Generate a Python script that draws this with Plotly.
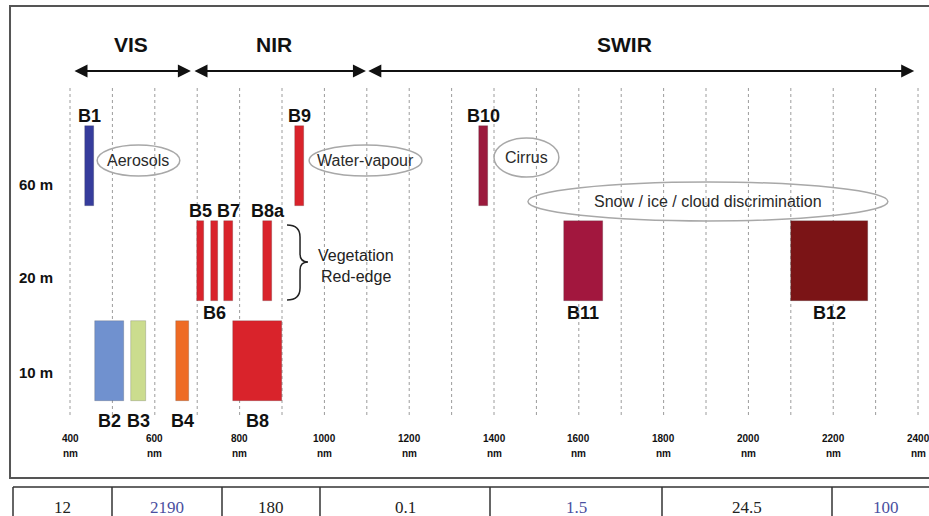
import plotly.graph_objects as go

# ---------------- data ----------------
band_names = ["B1", "B2", "B3", "B4", "B5", "B6", "B7", "B8", "B8a", "B9", "B10", "B11", "B12"]
band_center_nm = [446, 493, 561, 665, 708, 741, 774, 842, 866, 941, 1375, 1611, 2191]
band_width_nm = [21, 68, 35, 31, 16, 16, 21, 116, 21, 21, 21, 92, 182]
band_resolution_m = [60, 10, 10, 10, 20, 20, 20, 10, 20, 60, 60, 20, 20]
band_label_side = ["above", "below", "below", "below", "above", "below", "above",
                   "below", "above", "above", "above", "below", "below"]
band_colors = ["#363c9c", "#7091cf", "#cbdc8e", "#ee6b24", "#d9232b", "#d9232b", "#d9232b",
               "#d9232b", "#d9232b", "#d9232b", "#9b1a3d", "#a2173e", "#7b1416"]

resolution_labels = ["60 m", "20 m", "10 m"]
resolution_values = [60, 20, 10]

grid_nm = list(range(400, 2401, 100))
tick_nm = list(range(400, 2401, 200))
tick_labels = [str(v) for v in tick_nm]

regions = ["VIS", "NIR", "SWIR"]
region_start_nm = [407, 690, 1100]
region_end_nm = [685, 1098, 2391]
region_label_nm = [544, 882, 1707]

ellipse_texts = ["Aerosols", "Water-vapour", "Cirrus", "Snow / ice / cloud discrimination"]
ellipse_x0 = [464, 964, 1400, 1480]
ellipse_x1 = [659, 1230, 1553, 2329]

table_values = ["12", "2190", "180", "0.1", "1.5", "24.5", "100"]
table_colors = ["#222222", "#4a4fa0", "#222222", "#222222", "#4a4fa0", "#222222", "#4a4fa0"]

# ---------------- layout helpers (positions / styles) ----------------
W, H = 929, 516
X0, X1 = 234.9, 2425.9           # nm range spanning the figure width
row_base = {10: 115, 20: 215, 60: 310}   # vertical placement of each resolution row
row_height = 80
label_gap_above = 10
label_gap_below = {10: 20, 20: 12, 60: 12}
row_label_y = {60: 332, 20: 239, 10: 144}
ellipse_y = [(340, 371), (340, 371), (339, 378), (295, 334)]
grid_y0, grid_y1 = 101, 429
arrow_y = 445
region_label_y = 472

BOLD = "Liberation Sans, Arial, sans-serif"

fig = go.Figure()

# bands as bars
fig.add_trace(go.Bar(
    x=band_center_nm,
    width=band_width_nm,
    base=[row_base[r] for r in band_resolution_m],
    y=[row_height] * len(band_names),
    marker=dict(color=band_colors, line=dict(color="rgba(60,60,60,0.35)", width=0.6)),
    hoverinfo="skip",
))

shapes = []
annotations = []

# frame around the spectral chart
shapes.append(dict(type="rect", xref="x", yref="y", x0=258.5, x1=2445, y0=38, y1=510,
                   line=dict(color="#555555", width=2), layer="below"))

# dotted gridlines
for g in grid_nm:
    shapes.append(dict(type="line", xref="x", yref="y", x0=g, x1=g, y0=grid_y0, y1=grid_y1,
                       line=dict(color="#9c9c9c", width=1, dash="dot"), layer="below"))

# tick labels
for v, t in zip(tick_nm, tick_labels):
    annotations.append(dict(x=v, y=78, xref="x", yref="y", text="<b>%s</b>" % t, showarrow=False,
                            font=dict(family=BOLD, size=10, color="#111111")))
    annotations.append(dict(x=v, y=63, xref="x", yref="y", text="<b>nm</b>", showarrow=False,
                            font=dict(family=BOLD, size=10, color="#111111")))

# band labels
for n, c, r, side in zip(band_names, band_center_nm, band_resolution_m, band_label_side):
    if side == "above":
        y = row_base[r] + row_height + label_gap_above
    else:
        y = row_base[r] - label_gap_below[r]
    annotations.append(dict(x=c, y=y, xref="x", yref="y", text="<b>%s</b>" % n, showarrow=False,
                            font=dict(family=BOLD, size=18, color="#111111")))

# resolution row labels
for lab, r in zip(resolution_labels, resolution_values):
    annotations.append(dict(x=320, y=row_label_y[r], xref="x", yref="y", text="<b>%s</b>" % lab,
                            showarrow=False, font=dict(family=BOLD, size=15, color="#111111")))

# region arrows and labels
for name, s, e, lx in zip(regions, region_start_nm, region_end_nm, region_label_nm):
    annotations.append(dict(x=e, y=arrow_y, ax=s, ay=arrow_y, xref="x", yref="y", axref="x", ayref="y",
                            text="", showarrow=True, arrowhead=2, arrowside="end+start",
                            arrowsize=1.3, arrowwidth=2, arrowcolor="#111111"))
    annotations.append(dict(x=lx, y=region_label_y, xref="x", yref="y",
                            text="<b>%s</b>" % name, showarrow=False,
                            font=dict(family=BOLD, size=21, color="#111111")))

# ellipses with texts
for t, a, b, (ya, yb) in zip(ellipse_texts, ellipse_x0, ellipse_x1, ellipse_y):
    shapes.append(dict(type="circle", xref="x", yref="y", x0=a, x1=b, y0=ya, y1=yb,
                       line=dict(color="#a8a8a8", width=1.5)))
    annotations.append(dict(x=(a + b) / 2, y=(ya + yb) / 2, xref="x", yref="y", text=t, showarrow=False,
                            font=dict(family=BOLD, size=16, color="#2a2a2a")))

# curly brace for red-edge bands
shapes.append(dict(type="path", xref="x", yref="y",
                   path="M 911.8,291 Q 942.5,291 942.5,279 L 942.5,262 Q 942.5,254 961.3,254 "
                        "Q 942.5,254 942.5,246 L 942.5,228 Q 942.5,216 911.8,216",
                   line=dict(color="#222222", width=1.5)))
annotations.append(dict(x=1074, y=261, xref="x", yref="y", text="Vegetation", showarrow=False,
                        font=dict(family=BOLD, size=16, color="#222222")))
annotations.append(dict(x=1074, y=240, xref="x", yref="y", text="Red-edge", showarrow=False,
                        font=dict(family=BOLD, size=16, color="#222222")))

# table strip at the bottom (paper coordinates)
div_px = [13, 112, 222, 320, 490, 662, 832, 940]
top_p = (H - 487) / H
shapes.append(dict(type="line", xref="paper", yref="paper", x0=13 / W, x1=1.0, y0=top_p, y1=top_p,
                   line=dict(color="#333333", width=1.5)))
for d in div_px[:-1]:
    shapes.append(dict(type="line", xref="paper", yref="paper", x0=d / W, x1=d / W, y0=-0.02, y1=top_p,
                       line=dict(color="#333333", width=1.5)))
for i, (v, col) in enumerate(zip(table_values, table_colors)):
    cx = (div_px[i] + div_px[i + 1]) / 2 / W
    annotations.append(dict(x=cx, y=(H - 496) / H, xref="paper", yref="paper",
                            xanchor="center", yanchor="top",
                            text=v, showarrow=False,
                            font=dict(family="Liberation Serif, Times New Roman, serif", size=17, color=col)))

fig.update_layout(
    width=W, height=H,
    margin=dict(l=0, r=0, t=0, b=0),
    paper_bgcolor="white", plot_bgcolor="white",
    showlegend=False,
    xaxis=dict(range=[X0, X1], visible=False, fixedrange=True),
    yaxis=dict(range=[0, H], visible=False, fixedrange=True),
    shapes=shapes,
    annotations=annotations,
    bargap=0,
)

fig.write_html(
    "out.html",
    config={"displayModeBar": False},
    post_script="document.body.style.margin='0';document.body.style.overflow='hidden';",
)
